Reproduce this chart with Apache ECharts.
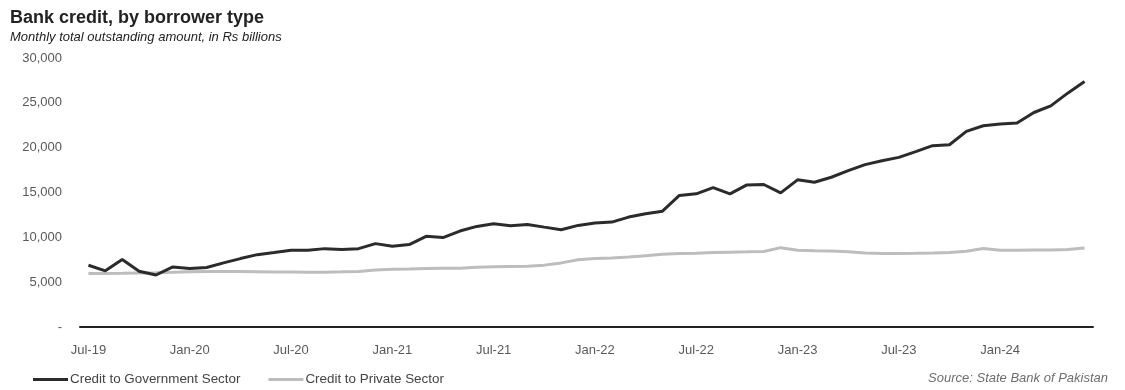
<!DOCTYPE html>
<html>
<head>
<meta charset="utf-8">
<script src="https://cdn.jsdelivr.net/npm/echarts@6/dist/echarts.min.js"></script>
<style>
html,body{margin:0;padding:0;background:#fff;}
#chart{width:1125px;height:390px;}
</style>
</head>
<body>
<div id="chart"></div>
<script>
const categories = [
  'Jul-19','Aug-19','Sep-19','Oct-19','Nov-19','Dec-19',
  'Jan-20','Feb-20','Mar-20','Apr-20','May-20','Jun-20',
  'Jul-20','Aug-20','Sep-20','Oct-20','Nov-20','Dec-20',
  'Jan-21','Feb-21','Mar-21','Apr-21','May-21','Jun-21',
  'Jul-21','Aug-21','Sep-21','Oct-21','Nov-21','Dec-21',
  'Jan-22','Feb-22','Mar-22','Apr-22','May-22','Jun-22',
  'Jul-22','Aug-22','Sep-22','Oct-22','Nov-22','Dec-22',
  'Jan-23','Feb-23','Mar-23','Apr-23','May-23','Jun-23',
  'Jul-23','Aug-23','Sep-23','Oct-23','Nov-23','Dec-23',
  'Jan-24','Feb-24','Mar-24','Apr-24','May-24','Jun-24'
];

const governmentCredit = [
  6890, 6260, 7520, 6220, 5800, 6700,
  6520, 6630, 7150, 7630, 8070, 8300,
  8560, 8560, 8740, 8630, 8740, 9300,
  9000, 9190, 10110, 9970, 10700, 11220,
  11520, 11300, 11440, 11140, 10850, 11330,
  11590, 11700, 12260, 12630, 12920, 14670,
  14850, 15550, 14850, 15850, 15890, 14960,
  16410, 16150, 16700, 17440, 18110, 18550,
  18920, 19550, 20220, 20330, 21810, 22440,
  22630, 22740, 23920, 24660, 26080, 27370
];

const privateCredit = [
  5960, 5980, 6000, 6030, 6060, 6100,
  6150, 6180, 6200, 6180, 6160, 6140,
  6120, 6100, 6110, 6150, 6200, 6350,
  6450, 6480, 6520, 6540, 6560, 6650,
  6720, 6750, 6780, 6900, 7150, 7500,
  7650, 7700, 7800, 7950, 8100, 8200,
  8230, 8300, 8350, 8380, 8420, 8850,
  8550, 8500, 8480, 8400, 8250, 8200,
  8200, 8220, 8260, 8320, 8450, 8750,
  8550, 8560, 8600, 8580, 8650, 8800
];

const seriesNames = ['Credit to Government Sector', 'Credit to Private Sector'];
const titleText = 'Bank credit, by borrower type';
const subtitleText = 'Monthly total outstanding amount, in Rs billions';
const sourceText = 'Source: State Bank of Pakistan';

const chart = echarts.init(document.getElementById('chart'), null, {renderer: 'canvas'});
const FONT = '"Liberation Sans", Arial, sans-serif';

chart.setOption({
  animation: false,
  backgroundColor: '#ffffff',
  title: [
    {
      text: titleText,
      left: 10, top: 9, padding: 0,
      textStyle: {fontFamily: FONT, fontSize: 18, fontWeight: 'bold', color: '#222222'}
    },
    {
      text: subtitleText,
      left: 10, top: 31, padding: 0,
      textStyle: {fontFamily: FONT, fontSize: 13, fontStyle: 'italic', fontWeight: 'normal', color: '#222222'}
    },
    {
      text: sourceText,
      right: 17, top: 372, padding: 0,
      textStyle: {fontFamily: FONT, fontSize: 13, fontStyle: 'italic', fontWeight: 'normal', color: '#6e6e6e'}
    }
  ],
  legend: {
    left: 33, top: 373, padding: 0,
    icon: 'rect',
    itemWidth: 35, itemHeight: 3,
    itemGap: 28,
    textStyle: {fontFamily: FONT, fontSize: 13.4, color: '#444444', padding: [0, 0, 0, -3]},
    data: seriesNames
  },
  grid: {left: 80, right: 32, top: 58, bottom: 63, containLabel: false},
  xAxis: {
    type: 'category',
    data: categories,
    boundaryGap: true,
    axisLine: {show: true, lineStyle: {color: '#222222', width: 2}},
    axisTick: {show: false},
    axisLabel: {
      interval: 5,
      margin: 17,
      fontFamily: FONT, fontSize: 13, color: '#595959'
    },
    splitLine: {show: false}
  },
  yAxis: {
    type: 'value',
    min: 0, max: 30000, interval: 5000,
    axisLine: {show: false},
    axisTick: {show: false},
    splitLine: {show: false},
    axisLabel: {
      margin: 18,
      fontFamily: FONT, fontSize: 13, color: '#595959',
      formatter: function (v) { return v === 0 ? '-' : v.toLocaleString('en-US'); }
    }
  },
  series: [
    {
      name: seriesNames[0],
      type: 'line',
      data: governmentCredit,
      showSymbol: false,
      symbol: 'none',
      lineStyle: {color: '#2b2b2b', width: 3},
      itemStyle: {color: '#2b2b2b'},
      z: 3
    },
    {
      name: seriesNames[1],
      type: 'line',
      data: privateCredit,
      showSymbol: false,
      symbol: 'none',
      lineStyle: {color: '#bdbdbd', width: 3},
      itemStyle: {color: '#bdbdbd'},
      z: 2
    }
  ]
});
</script>
</body>
</html>
